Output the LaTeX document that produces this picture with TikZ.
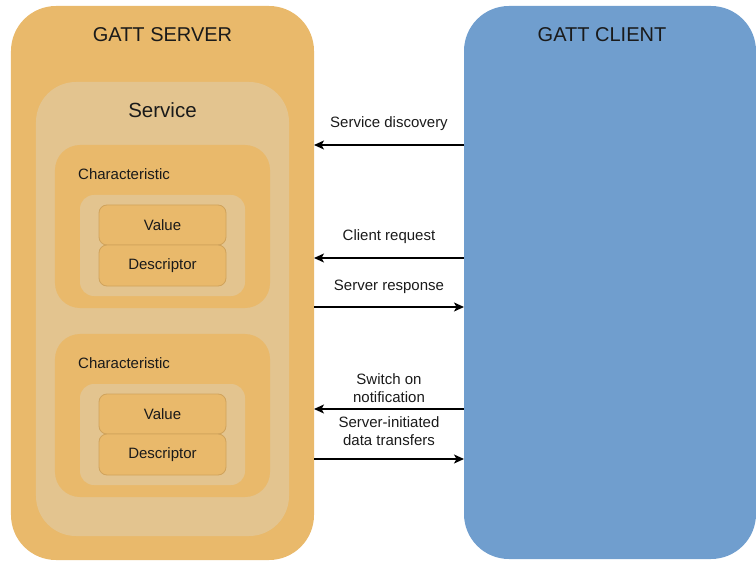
\documentclass[tikz,border=0pt]{standalone}
\usepackage{fontspec}
\setmainfont{Liberation Sans}
\usetikzlibrary{arrows.meta}
\definecolor{srvorange}{RGB}{233,185,107}
\definecolor{svclight}{RGB}{227,196,143}
\definecolor{clientblue}{RGB}{112,158,206}
\definecolor{valborder}{RGB}{208,163,92}
\definecolor{txt}{RGB}{26,26,26}
\tikzset{
  box/.style={rectangle, inner sep=0pt, outer sep=0pt},
  bigtitle/.style={font=\fontsize{20bp}{23bp}\selectfont, text=txt},
  midtitle/.style={font=\fontsize{20.5bp}{23bp}\selectfont, text=txt},
  lbl/.style={font=\fontsize{15bp}{18bp}\selectfont, text=txt, align=center},
  arr/.style={draw=black, line width=1.3bp, -{Stealth[length=10bp,width=9bp,inset=2.5bp]}},
  valbox/.style={box, fill=srvorange, draw=valborder, line width=0.8bp, rounded corners=8bp,
    minimum width=127bp, minimum height=40bp, font=\fontsize{15bp}{17bp}\selectfont, text=txt}
}
\begin{document}
\begin{tikzpicture}[x=1bp,y=-1bp]
\useasboundingbox (0,0) rectangle (756,561);
% main boxes
\node[box, fill=srvorange, rounded corners=45bp, minimum width=303bp, minimum height=554bp] (server) at (162.5,283) {};
\node[box, fill=clientblue, rounded corners=45bp, minimum width=292bp, minimum height=553bp] (client) at (610,282.5) {};
\node[bigtitle] (srvtitle) at (162.5,35) {GATT SERVER};
\node[bigtitle] (clititle) at (602,35) {GATT CLIENT};
% service
\node[box, fill=svclight, rounded corners=40bp, minimum width=253bp, minimum height=454bp] (service) at (162.5,309) {};
\node[midtitle] (svctitle) at (162.5,110) {Service};
% characteristic 1
\node[box, fill=srvorange, rounded corners=25bp, minimum width=215bp, minimum height=163bp] (char1) at (162.5,226.5) {};
\node[lbl, anchor=west, inner sep=0pt] (char1t) at (78,174) {Characteristic};
\node[box, fill=svclight, rounded corners=14bp, minimum width=165bp, minimum height=101bp] (inner1) at (162.5,245.5) {};
\node[valbox] (val1) at (162.5,225) {Value};
\node[valbox, minimum height=41bp] (desc1) at (162.5,265.5) {Descriptor};
% characteristic 2
\node[box, fill=srvorange, rounded corners=25bp, minimum width=215bp, minimum height=163bp] (char2) at (162.5,415.5) {};
\node[lbl, anchor=west, inner sep=0pt] (char2t) at (78,363) {Characteristic};
\node[box, fill=svclight, rounded corners=14bp, minimum width=165bp, minimum height=101bp] (inner2) at (162.5,434.5) {};
\node[valbox] (val2) at (162.5,414) {Value};
\node[valbox, minimum height=41bp] (desc2) at (162.5,454.5) {Descriptor};
% arrows
\coordinate (y1) at (0,145);
\coordinate (y2) at (0,258);
\coordinate (y3) at (0,307);
\coordinate (y4) at (0,409);
\coordinate (y5) at (0,459);
\draw[arr] (client.west |- y1) -- (server.east |- y1);
\draw[arr] (client.west |- y2) -- (server.east |- y2);
\draw[arr] (server.east |- y3) -- (client.west |- y3);
\draw[arr] (client.west |- y4) -- (server.east |- y4);
\draw[arr] (server.east |- y5) -- (client.west |- y5);
\node[lbl] (l1) at (389,124) {Service discovery};
\node[lbl] (l2) at (389,237) {Client request};
\node[lbl] (l3) at (389,287) {Server response};
\node[lbl] (l4) at (389,388) {Switch on\\notification};
\node[lbl] (l5) at (389,431.5) {Server-initiated\\data transfers};
\end{tikzpicture}
\end{document}
